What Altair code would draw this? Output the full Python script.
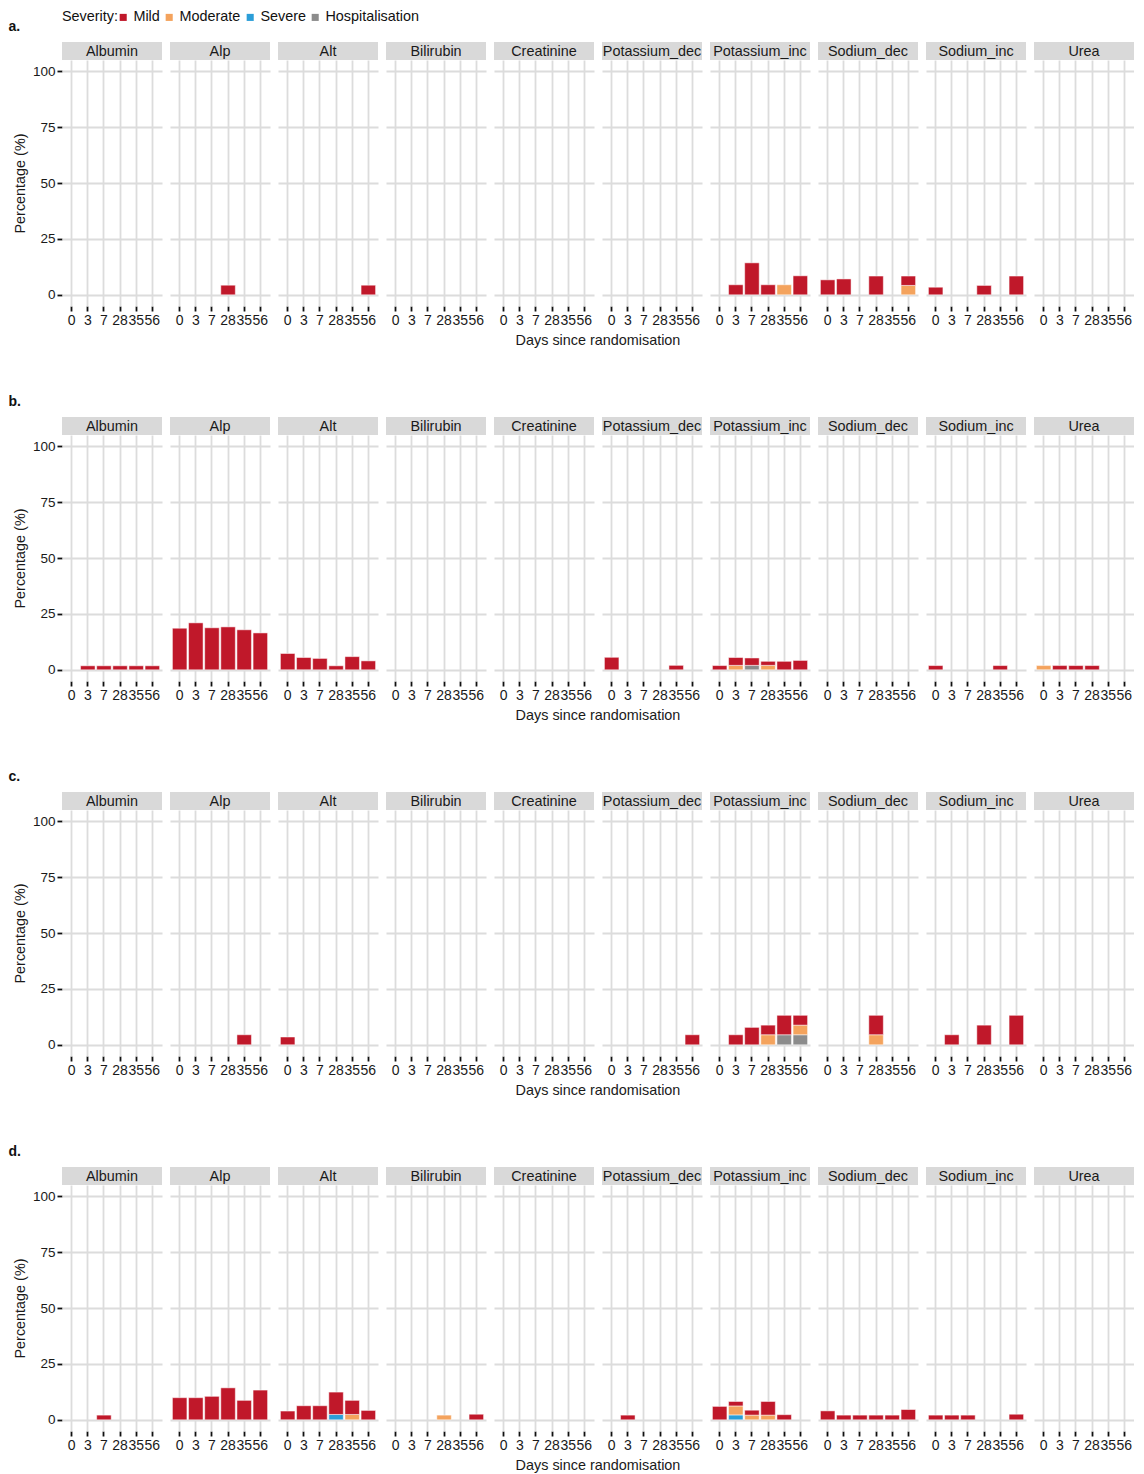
import altair as alt
import pandas as pd

TESTS = ["Albumin", "Alp", "Alt", "Bilirubin", "Creatinine", "Potassium_dec",
         "Potassium_inc", "Sodium_dec", "Sodium_inc", "Urea"]
DAYS = ["0", "3", "7", "28", "35", "56"]
SEVERITIES = ["Mild", "Moderate", "Severe", "Hospitalisation"]
COLORS = ["#C0182A", "#F4A35D", "#2B9ED8", "#8C8C8C"]
STACK_RANK = {"Hospitalisation": 0, "Severe": 1, "Moderate": 2, "Mild": 3}

# (test, day, severity, percentage)
PANEL_A = [
    ("Alp", "28", "Mild", 4.3),
    ("Alt", "56", "Mild", 4.3),
    ("Potassium_inc", "3", "Mild", 4.5),
    ("Potassium_inc", "7", "Mild", 14.3),
    ("Potassium_inc", "28", "Mild", 4.5),
    ("Potassium_inc", "35", "Moderate", 4.5),
    ("Potassium_inc", "56", "Mild", 8.5),
    ("Sodium_dec", "0", "Mild", 6.7),
    ("Sodium_dec", "3", "Mild", 7.1),
    ("Sodium_dec", "28", "Mild", 8.4),
    ("Sodium_dec", "56", "Moderate", 4.2),
    ("Sodium_dec", "56", "Mild", 4.2),
    ("Sodium_inc", "0", "Mild", 3.4),
    ("Sodium_inc", "28", "Mild", 4.2),
    ("Sodium_inc", "56", "Mild", 8.4),
]

PANEL_B = [
    ("Albumin", "3", "Mild", 1.8),
    ("Albumin", "7", "Mild", 1.8),
    ("Albumin", "28", "Mild", 1.8),
    ("Albumin", "35", "Mild", 1.8),
    ("Albumin", "56", "Mild", 1.8),
    ("Alp", "0", "Mild", 18.6),
    ("Alp", "3", "Mild", 21.0),
    ("Alp", "7", "Mild", 18.8),
    ("Alp", "28", "Mild", 19.2),
    ("Alp", "35", "Mild", 17.9),
    ("Alp", "56", "Mild", 16.5),
    ("Alt", "0", "Mild", 7.3),
    ("Alt", "3", "Mild", 5.5),
    ("Alt", "7", "Mild", 5.1),
    ("Alt", "28", "Mild", 1.8),
    ("Alt", "35", "Mild", 5.9),
    ("Alt", "56", "Mild", 4.0),
    ("Potassium_dec", "0", "Mild", 5.6),
    ("Potassium_dec", "35", "Mild", 2.0),
    ("Potassium_inc", "0", "Mild", 1.9),
    ("Potassium_inc", "3", "Moderate", 2.0),
    ("Potassium_inc", "3", "Mild", 3.5),
    ("Potassium_inc", "7", "Hospitalisation", 2.0),
    ("Potassium_inc", "7", "Mild", 3.3),
    ("Potassium_inc", "28", "Moderate", 2.0),
    ("Potassium_inc", "28", "Mild", 1.8),
    ("Potassium_inc", "35", "Mild", 3.8),
    ("Potassium_inc", "56", "Mild", 4.2),
    ("Sodium_inc", "0", "Mild", 1.9),
    ("Sodium_inc", "35", "Mild", 1.9),
    ("Urea", "0", "Moderate", 1.9),
    ("Urea", "3", "Mild", 1.9),
    ("Urea", "7", "Mild", 1.9),
    ("Urea", "28", "Mild", 1.9),
]

PANEL_C = [
    ("Alp", "35", "Mild", 4.5),
    ("Alt", "0", "Mild", 3.5),
    ("Potassium_dec", "56", "Mild", 4.5),
    ("Potassium_inc", "3", "Mild", 4.5),
    ("Potassium_inc", "7", "Mild", 7.8),
    ("Potassium_inc", "28", "Moderate", 4.5),
    ("Potassium_inc", "28", "Mild", 4.3),
    ("Potassium_inc", "35", "Hospitalisation", 4.5),
    ("Potassium_inc", "35", "Mild", 8.7),
    ("Potassium_inc", "56", "Hospitalisation", 4.5),
    ("Potassium_inc", "56", "Moderate", 4.3),
    ("Potassium_inc", "56", "Mild", 4.4),
    ("Sodium_dec", "28", "Moderate", 4.5),
    ("Sodium_dec", "28", "Mild", 8.7),
    ("Sodium_inc", "3", "Mild", 4.5),
    ("Sodium_inc", "28", "Mild", 8.8),
    ("Sodium_inc", "56", "Mild", 13.2),
]

PANEL_D = [
    ("Albumin", "7", "Mild", 2.1),
    ("Alp", "0", "Mild", 9.9),
    ("Alp", "3", "Mild", 9.9),
    ("Alp", "7", "Mild", 10.5),
    ("Alp", "28", "Mild", 14.3),
    ("Alp", "35", "Mild", 8.7),
    ("Alp", "56", "Mild", 13.3),
    ("Alt", "0", "Mild", 3.9),
    ("Alt", "3", "Mild", 6.3),
    ("Alt", "7", "Mild", 6.3),
    ("Alt", "28", "Severe", 2.4),
    ("Alt", "28", "Mild", 10.0),
    ("Alt", "35", "Moderate", 2.4),
    ("Alt", "35", "Mild", 6.3),
    ("Alt", "56", "Mild", 4.2),
    ("Bilirubin", "28", "Moderate", 2.1),
    ("Bilirubin", "56", "Mild", 2.5),
    ("Potassium_dec", "3", "Mild", 2.1),
    ("Potassium_inc", "0", "Mild", 6.0),
    ("Potassium_inc", "3", "Severe", 2.2),
    ("Potassium_inc", "3", "Moderate", 4.0),
    ("Potassium_inc", "3", "Mild", 2.0),
    ("Potassium_inc", "7", "Moderate", 2.1),
    ("Potassium_inc", "7", "Mild", 2.2),
    ("Potassium_inc", "28", "Moderate", 2.1),
    ("Potassium_inc", "28", "Mild", 6.1),
    ("Potassium_inc", "35", "Mild", 2.3),
    ("Sodium_dec", "0", "Mild", 4.0),
    ("Sodium_dec", "3", "Mild", 2.1),
    ("Sodium_dec", "7", "Mild", 2.1),
    ("Sodium_dec", "28", "Mild", 2.1),
    ("Sodium_dec", "35", "Mild", 2.1),
    ("Sodium_dec", "56", "Mild", 4.6),
    ("Sodium_inc", "0", "Mild", 2.1),
    ("Sodium_inc", "3", "Mild", 2.1),
    ("Sodium_inc", "7", "Mild", 2.1),
    ("Sodium_inc", "56", "Mild", 2.5),
]

FONT = "Liberation Sans"
FS = 14.4
PANEL_W = 100
PANEL_H = 246
STRIP_H = 18


def make_df(rows):
    recs = [dict(test=t, day=d, severity=s, value=v, rank=STACK_RANK[s]) for t, d, s, v in rows]
    # zero placeholders so that every test gets its own (possibly empty) panel
    for t in TESTS:
        recs.append(dict(test=t, day="0", severity="Mild", value=0.0, rank=3))
    return pd.DataFrame(recs)


def panel(label, rows):
    df = make_df(rows)
    bars = alt.Chart().transform_filter("datum.value > 0").mark_bar(
        stroke="white", strokeWidth=0.5
    ).encode(
        x=alt.X("day:O", sort=DAYS,
                scale=alt.Scale(domain=DAYS, paddingInner=0.1, paddingOuter=0.15),
                axis=alt.Axis(title=None, bandPosition=0.5,
                              labelAngle=0, labelOverlap=False, labelFlush=False,
                              labelBound=False, grid=True, labelFontSize=14)),
        y=alt.Y("value:Q", stack="zero",
                scale=alt.Scale(domain=[-5, 105], nice=False, zero=False),
                axis=alt.Axis(title="Percentage (%)", values=[0, 25, 50, 75, 100], grid=True,
                              labelFontSize=13.5)),
        color=alt.Color("severity:N",
                        scale=alt.Scale(domain=SEVERITIES, range=COLORS),
                        legend=alt.Legend(title="Severity:", orient="none",
                                          direction="horizontal", titleOrient="left",
                                          legendX=0, legendY=-50,
                                          symbolType="square", symbolSize=50,
                                          symbolStrokeWidth=0, labelOffset=3,
                                          columnPadding=2, titlePadding=-2,
                                          labelFont=FONT, titleFont=FONT,
                                          labelFontSize=FS, titleFontSize=FS,
                                          titleFontWeight="normal",
                                          labelColor="#111", titleColor="#111")),
        order=alt.Order("rank:Q"),
    )
    strip = alt.Chart().transform_aggregate(n="count()", groupby=["test"]).mark_rect(
        color="#D9D9D9", clip=False
    ).encode(
        x=alt.value(0), x2=alt.value(PANEL_W),
        y=alt.value(-STRIP_H), y2=alt.value(0),
    )
    text = alt.Chart().transform_aggregate(n="count()", groupby=["test"]).mark_text(
        font=FONT, fontSize=FS, color="#1a1a1a", baseline="middle", align="center", clip=False
    ).encode(
        text="test:N", x=alt.value(PANEL_W / 2), y=alt.value(-STRIP_H / 2 + 0.5),
    )
    return alt.layer(bars, strip, text, data=df).properties(
        width=PANEL_W, height=PANEL_H
    ).facet(
        column=alt.Column("test:N", sort=TESTS, title="Days since randomisation",
                          header=alt.Header(labels=False, titleOrient="bottom",
                                            titleFont=FONT, titleFontSize=FS,
                                            titleFontWeight="normal", titleColor="#1a1a1a",
                                            titlePadding=-3)),
        spacing=8,
        title=alt.TitleParams(text=label, anchor="start", frame="bounds", font=FONT,
                              fontSize=14, fontWeight="bold", color="#111", offset=8, dx=-4),
    )


chart = alt.vconcat(
    panel("a.", PANEL_A),
    panel("b.", PANEL_B),
    panel("c.", PANEL_C),
    panel("d.", PANEL_D),
    spacing=47,
).properties(
    padding={"left": 0, "top": 2, "right": 0, "bottom": 0}
).configure_view(
    stroke=None
).configure_axis(
    labelFont=FONT, titleFont=FONT, titleFontSize=FS,
    labelColor="#1a1a1a", titleColor="#1a1a1a", titleFontWeight="normal",
    domain=False, tickColor="#111", tickWidth=1.8, tickSize=5,
    gridColor="#DCDCDC", gridWidth=1.8, labelPadding=2, titlePadding=5,
)

chart.save("out.html", embed_options={"renderer": "svg", "actions": False})
